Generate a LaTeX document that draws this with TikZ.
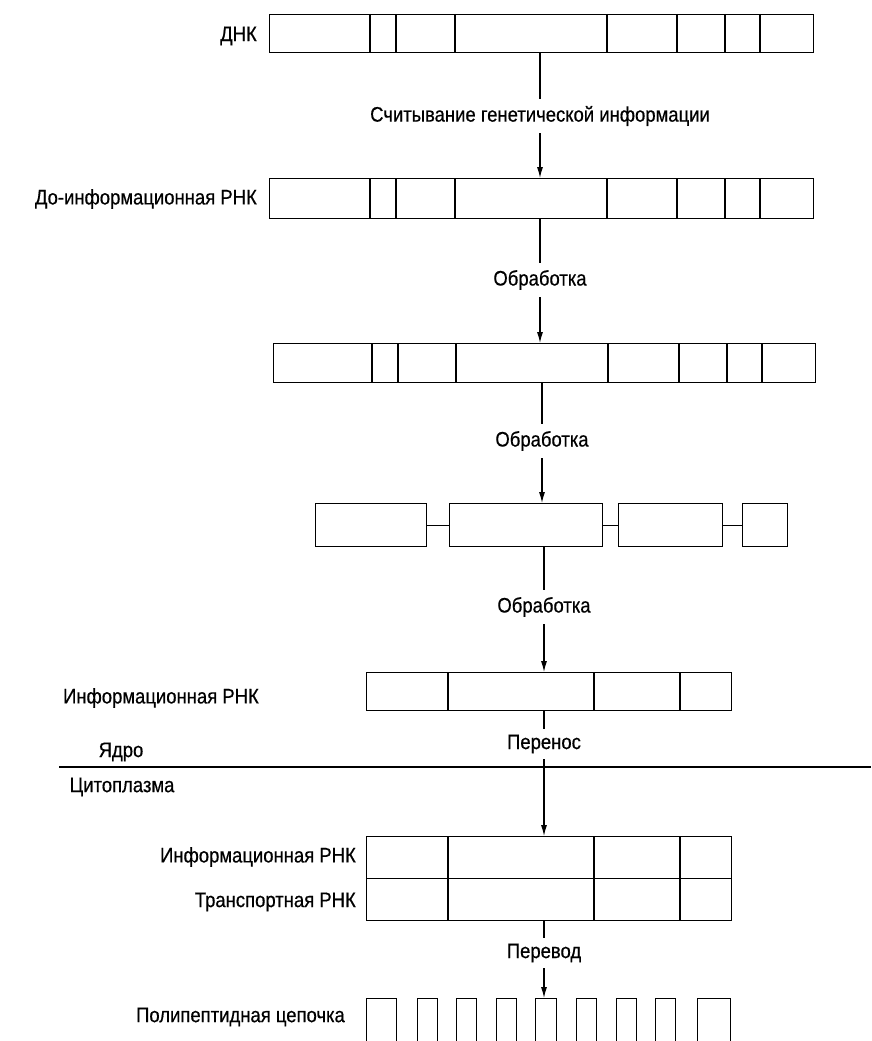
\documentclass[tikz,border=0pt]{standalone}
\usepackage{fontspec}
\setmainfont{Liberation Sans}[FakeStretch=0.88,FakeBold=0.5]
\usetikzlibrary{arrows.meta}
\begin{document}
\begin{tikzpicture}[x=1pt,y=-1pt,
  every node/.style={font=\fontsize{21}{25}\selectfont, inner sep=0pt},
  cell/.style={draw, line width=1.3pt, anchor=north west, inner sep=0pt},
  rule/.style={line width=1.3pt},
  conn/.style={line width=1.1pt},
  arr/.style={line width=1.1pt, -{Latex[length=11pt,width=6pt]}},
  stage/.style={minimum height=34pt},
  lbl/.style={anchor=east}
]
\useasboundingbox[fill=white] (0,0) rectangle (871,1041);

% Row 1: DNA
\node[cell, minimum width=544pt, minimum height=38pt] (r1) at (269,14) {};
\foreach \x in {370,396,455,607,677,725,760} \draw[rule] (\x,14) -- (\x,52);
\node[lbl] (l1) at (257,36) {ДНК};

% Row 2
\node[cell, minimum width=544pt, minimum height=40pt] (r2) at (269,178) {};
\foreach \x in {370,396,455,607,677,725,760} \draw[rule] (\x,178) -- (\x,218);
\node[lbl] (l2) at (257,199) {До-информационная РНК};

% Row 3
\node[cell, minimum width=542pt, minimum height=39pt] (r3) at (273,343) {};
\foreach \x in {372,398,456,608,679,727,762} \draw[rule] (\x,343) -- (\x,382);

% Row 4
\node[cell, minimum width=111pt, minimum height=43pt] (r4a) at (315,503) {};
\node[cell, minimum width=153pt, minimum height=43pt] (r4b) at (449,503) {};
\node[cell, minimum width=104pt, minimum height=43pt] (r4c) at (618,503) {};
\node[cell, minimum width=45pt, minimum height=43pt] (r4d) at (742,503) {};
\draw[rule] (r4a.east) -- (r4b.west);
\draw[rule] (r4b.east) -- (r4c.west);
\draw[rule] (r4c.east) -- (r4d.west);

% Row 5
\node[cell, minimum width=365pt, minimum height=38pt] (r5) at (366,672) {};
\foreach \x in {448,594,680} \draw[rule] (\x,672) -- (\x,710);
\node[lbl] (l5) at (259,698) {Информационная РНК};

% Nucleus / cytoplasm border
\coordinate (m1) at (59,767);
\coordinate (m2) at (871,767);
\draw[rule] (m1) -- (m2);
\node (ya) at (121,752) {Ядро};
\node (ci) at (122,787) {Цитоплазма};

% Row 6
\node[cell, minimum width=365pt, minimum height=84pt] (r6) at (366,836) {};
\draw[rule] (r6.west) -- (r6.east);
\foreach \x in {448,594,680} \draw[rule] (\x,836) -- (\x,920);
\node[lbl] (l6a) at (356,857) {Информационная РНК};
\node[lbl] (l6b) at (356,902) {Транспортная РНК};

% Row 7
\foreach \i/\a/\b in {1/366/396,2/417/437,3/456/476,4/496/516,5/535/556,6/576/596,7/616/636,8/655/675,9/697/730}
  \node[cell, minimum width={\b-\a}, minimum height=70pt] (p\i) at (\a,998) {};
\node[lbl] (l7) at (345,1017) {Полипептидная цепочка};

% Stage labels
\node[stage] (t1) at (540,116) {Считывание генетической информации};
\node[stage] (t2) at (540,280) {Обработка};
\node[stage] (t3) at (542,441) {Обработка};
\node[stage] (t4) at (544,607) {Обработка};
\node[stage, minimum height=30pt] (t5) at (544,744) {Перенос};
\node[stage, minimum height=30pt] (t6) at (544,953) {Перевод};

% Connectors
\draw[conn] (t1.north |- r1.south) -- (t1.north);
\draw[arr] (t1.south) -- (t1.south |- r2.north);
\draw[conn] (t2.north |- r2.south) -- (t2.north);
\draw[arr] (t2.south) -- (t2.south |- r3.north);
\draw[conn] (t3.north |- r3.south) -- (t3.north);
\draw[arr] (t3.south) -- (t3.south |- r4b.north);
\draw[conn] (t4.north |- r4b.south) -- (t4.north);
\draw[arr] (t4.south) -- (t4.south |- r5.north);
\draw[conn] (t5.north |- r5.south) -- (t5.north);
\draw[arr] (t5.south) -- (t5.south |- r6.north);
\draw[conn] (t6.north |- r6.south) -- (t6.north);
\draw[arr] (t6.south) -- (t6.south |- p5.north);
\end{tikzpicture}
\end{document}
